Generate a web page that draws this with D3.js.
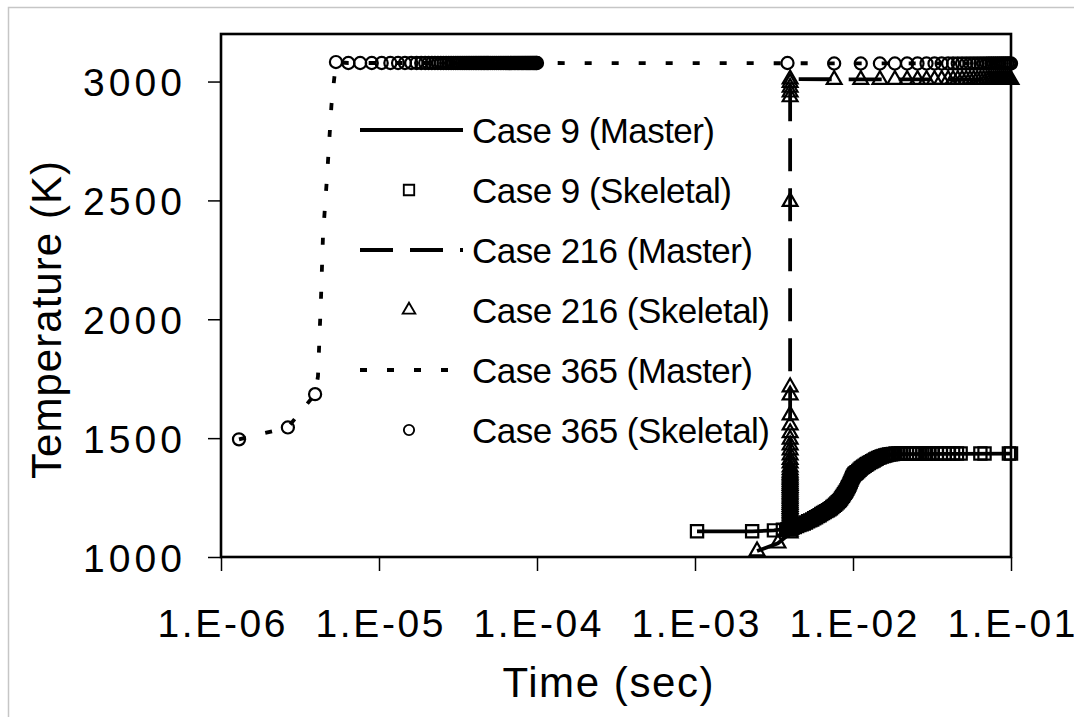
<!DOCTYPE html>
<html>
<head>
<meta charset="utf-8">
<script src="https://cdn.jsdelivr.net/npm/d3@7"></script>
<style>
  body { margin: 0; background: #fff; }
  text { font-family: "Liberation Sans", Arial, sans-serif; fill: #000; }
</style>
</head>
<body>
<svg id="chart"></svg>
<script>
// axis ticks
const xTicks = [1e-6, 1e-5, 1e-4, 1e-3, 1e-2, 1e-1];
const xTickLabels = ["1.E-06", "1.E-05", "1.E-04", "1.E-03", "1.E-02", "1.E-01"];
const yTicks = [1000, 1500, 2000, 2500, 3000];

// ---- Case 9: [time (sec), T (K)] ----
const case9Master = [[1.03e-3,1108],[2.3e-3,1108],[3.16e-3,1112],[4.0e-3,1120],[4.43e-3,1130],[5.2e-3,1150],
  [6.46e-3,1185],[7.4e-3,1210],[8.27e-3,1240],[9.0e-3,1275],[9.58e-3,1311],[1.06e-2,1357],[1.23e-2,1391],
  [1.48e-2,1420],[1.79e-2,1433],[1e-1,1435]];
// skeletal: early points, ignition S-curve (time in ms), plateau (time in ms)
const case9SkelEarly = [[1.03e-3,1108],[2.3e-3,1108],[3.16e-3,1112],[3.6e-3,1115],[3.85e-3,1117]];
const case9SkelRiseMs = [[4.0,1120],[4.14,1123],[4.28,1126],[4.43,1130],[4.58,1134],[4.73,1138],[4.88,1141],
  [5.04,1145],[5.2,1150],[5.36,1154],[5.52,1158],[5.68,1163],[5.84,1167],[6.0,1172],[6.15,1176],[6.3,1181],
  [6.46,1185],[6.62,1189],[6.78,1193],[6.94,1197],[7.1,1201],[7.25,1205],[7.4,1210],[7.55,1215],[7.7,1220],
  [7.85,1225],[8.0,1230],[8.14,1235],[8.27,1240],[8.4,1246],[8.52,1252],[8.64,1258],[8.76,1264],[8.88,1270],
  [9.0,1275],[9.1,1281],[9.2,1287],[9.3,1293],[9.4,1299],[9.5,1305],[9.58,1311],[9.68,1318],[9.78,1325],
  [9.88,1332],[9.98,1338],[10.1,1344],[10.22,1349],[10.35,1351],[10.48,1354],[10.6,1357],[10.8,1362],
  [11.0,1367],[11.2,1372],[11.4,1376],[11.6,1380],[11.85,1384],[12.1,1388],[12.3,1391],[12.6,1395],
  [12.9,1399],[13.2,1403],[13.5,1406],[13.8,1410],[14.1,1413],[14.45,1417],[14.8,1420],[15.2,1423],
  [15.6,1425],[16.0,1427],[16.4,1429],[16.9,1431],[17.4,1432],[17.9,1433]];
const case9PlateauMs = [18.6, 19.4, 20.2, 21, 22, 23, 24, 25, 26.2, 27.5, 29, 30.5, 32, 34, 36, 38, 40.5, 43,
  45.5, 48, 64, 68, 97, 100];
const case9PlateauT = 1435;

// ---- Case 216 ----
const case216Master = [[2.47e-3,1025],[3.35e-3,1058],[4.0e-3,1100],[4.0e-3,1720],[4.0e-3,2500],[4.0e-3,3000],
  [4.05e-3,3010],[1e-1,3008]];
const case216SkelEarly = [[2.47e-3,1025],[3.35e-3,1058]];
const case216JumpTime = 4.0e-3;
const case216JumpTemps = [1100,1108,1116,1124,1132,1140,1148,1156,1164,1172,1180,1188,1196,1204,1212,1220,
  1228,1236,1244,1252,1260,1268,1276,1284,1292,1300,1308,1316,1324,1332,1340,1348,1356,1366,1378,1395,
  1410,1429,1450,1471,1495,1522,1555,1597,1681,1715,2495,2935,2955,2975,2995,3010];
const tailMs = [7.6, 11.2, 14.8, 18.4, 22, 25.6, 29.2, 32.8, 36.4, 40, 43, 46, 49, 52, 55, 58, 61, 64, 67, 70,
  72.5, 75, 77.5, 80, 82.5, 85, 87.5, 90, 92.5, 95, 97.5, 100];
const case216TailT = 3008;

// ---- Case 365 ----
const case365Master = [[1.3e-6,1495],[2.65e-6,1545],[3.94e-6,1685],[4.11e-6,1760],[4.3e-6,2100],[4.42e-6,2350],
  [4.69e-6,2600],[5.0e-6,2900],[5.34e-6,3082],[6.4e-6,3078],[1e-4,3078],[1e-1,3076]];
const case365SkelEarly = [[1.3e-6,1495],[2.65e-6,1545],[3.94e-6,1685],[5.34e-6,3082]];
const case365FlatUs = [6.4,7.6,9.0,10.4,11.8,13.2,14.6,16,17.3,18.5,19.6,20.6,21.6,22.6,23.6,24.6,25.6,26.6,
  27.6,28.6,29.6,30.6,31.6,32.6,33.6,34.6,35.6,36.6,37.6,38.6,39.6,40.6,41.6,42.6,43.6,44.6,45.6,46.6,47.6,
  48.6,49.6,51,52.5,54,55.5,57,58.5,60,61.5,63,64.5,66,67.5,69,70.5,72,73.5,75,76.5,78,79.5,81,82.5,84,85.5,
  87,88.5,90,91.5,93,94.5,96,97.5,99,100];
const case365FlatT = 3078;
const case365LateFirst = [3.85e-3, 3078];
const case365TailT = 3076;

const legendNames = ["Case 9 (Master)", "Case 9 (Skeletal)", "Case 216 (Master)",
  "Case 216 (Skeletal)", "Case 365 (Master)", "Case 365 (Skeletal)"];

// assemble skeletal series
const case9Skeletal = case9SkelEarly
  .concat(case9SkelRiseMs.map(d => [d[0] * 1e-3, d[1]]))
  .concat(case9PlateauMs.map(t => [t * 1e-3, case9PlateauT]));
const case216Skeletal = case216SkelEarly
  .concat(case216JumpTemps.map(T => [case216JumpTime, T]))
  .concat(tailMs.map(t => [t * 1e-3, case216TailT]));
const case365Skeletal = case365SkelEarly
  .concat(case365FlatUs.map(t => [t * 1e-6, case365FlatT]))
  .concat([case365LateFirst])
  .concat(tailMs.map(t => [t * 1e-3, case365TailT]));

const width = 1074, height = 717;
const plotLeft = 221, plotRight = 1011, plotTop = 34, plotBottom = 557;

const svg = d3.select("#chart")
    .attr("width", width)
    .attr("height", height)
    .style("display", "block");

svg.append("rect").attr("width", width).attr("height", height).attr("fill", "#fff");
// outer chart-area border (only left/top edges visible)
svg.append("rect")
    .attr("x", 8.5).attr("y", 7.5).attr("width", 1200).attr("height", 900)
    .attr("fill", "none").attr("stroke", "#c6c6c6").attr("stroke-width", 1.5);

const x = d3.scaleLog().domain([1e-6, 1e-1]).range([plotLeft, plotRight]);
const y = d3.scaleLinear().domain([1000, 3200]).range([plotBottom, plotTop]);

// axes
const xAxis = svg.append("g")
    .attr("transform", `translate(0,${plotBottom})`)
    .call(d3.axisBottom(x).tickValues(xTicks).tickSize(14).tickFormat((d, i) => xTickLabels[i]));
const yAxis = svg.append("g")
    .attr("transform", `translate(${plotLeft},0)`)
    .call(d3.axisLeft(y).tickValues(yTicks).tickSize(13).tickFormat(d3.format("d")));

[xAxis, yAxis].forEach(g => {
  g.select(".domain").remove();
  g.selectAll(".tick line").attr("stroke", "#000").attr("stroke-width", 1.5);
});
xAxis.selectAll(".tick text")
    .attr("y", 80).attr("dy", 0)
    .attr("font-size", 39)
    .attr("textLength", 128)
    .style("font-family", "Liberation Sans, Arial, sans-serif");
yAxis.selectAll(".tick text")
    .attr("x", -39).attr("dy", "0.36em")
    .attr("font-size", 39)
    .attr("textLength", 99)
    .style("font-family", "Liberation Sans, Arial, sans-serif");

// plot frame
svg.append("rect")
    .attr("x", plotLeft).attr("y", plotTop)
    .attr("width", plotRight - plotLeft).attr("height", plotBottom - plotTop)
    .attr("fill", "none").attr("stroke", "#000").attr("stroke-width", 2.6);

// titles
svg.append("text")
    .attr("x", 608).attr("y", 697)
    .attr("text-anchor", "middle")
    .attr("font-size", 42)
    .attr("textLength", 211)
    .text("Time (sec)");
svg.append("text")
    .attr("transform", "translate(61,320) rotate(-90)")
    .attr("text-anchor", "middle")
    .attr("font-size", 42)
    .attr("textLength", 318)
    .text("Temperature (K)");

const line = d3.line().x(d => x(d[0])).y(d => y(d[1]));

const lineStyles = {
  solid: null,
  longDash: "33,17",
  dot: "7,20"
};

function drawLine(data, dash) {
  svg.append("path")
      .datum(data)
      .attr("d", line)
      .attr("fill", "none")
      .attr("stroke", "#000")
      .attr("stroke-width", 3.8)
      .attr("stroke-dasharray", dash);
}

const squareSym = d3.symbol().type(d3.symbolSquare).size(150);
const triSym = d3.symbol().type(d3.symbolTriangle).size(95);
const circSym = d3.symbol().type(d3.symbolCircle).size(115);

// Excel-style markers: black outline, no fill
function drawMarkers(data, sym) {
  svg.append("g").selectAll("path")
    .data(data)
    .join("path")
      .attr("transform", d => `translate(${x(d[0])},${y(d[1])})`)
      .attr("d", sym)
      .attr("fill", "none")
      .attr("stroke", "#000")
      .attr("stroke-width", 2.2);
}

drawLine(case9Master, lineStyles.solid);
drawMarkers(case9Skeletal, squareSym);
drawLine(case216Master, lineStyles.longDash);
drawMarkers(case216Skeletal, triSym);
drawLine(case365Master, lineStyles.dot);
drawMarkers(case365Skeletal, circSym);

// legend
const legendRows = [
  {kind: "line", dash: lineStyles.solid},
  {kind: "marker", sym: squareSym},
  {kind: "line", dash: lineStyles.longDash},
  {kind: "marker", sym: triSym},
  {kind: "line", dash: lineStyles.dot},
  {kind: "marker", sym: circSym}
];
const legendWidths = [243, 260, 281, 298, 281, 298];

const legend = svg.append("g");
legendRows.forEach((r, i) => {
  const cy = 130 + i * 60;
  if (r.kind === "line") {
    legend.append("line")
        .attr("x1", 360).attr("x2", 463).attr("y1", cy).attr("y2", cy)
        .attr("stroke", "#000").attr("stroke-width", 3.8)
        .attr("stroke-dasharray", r.dash);
  } else {
    legend.append("path")
        .attr("transform", `translate(409,${cy}) scale(0.85)`)
        .attr("d", r.sym)
        .attr("fill", "none").attr("stroke", "#000").attr("stroke-width", 2.2);
  }
  legend.append("text")
      .attr("x", 472).attr("y", cy + 12.5)
      .attr("font-size", 35)
      .attr("textLength", legendWidths[i])
      .text(legendNames[i]);
});
</script>
</body>
</html>
